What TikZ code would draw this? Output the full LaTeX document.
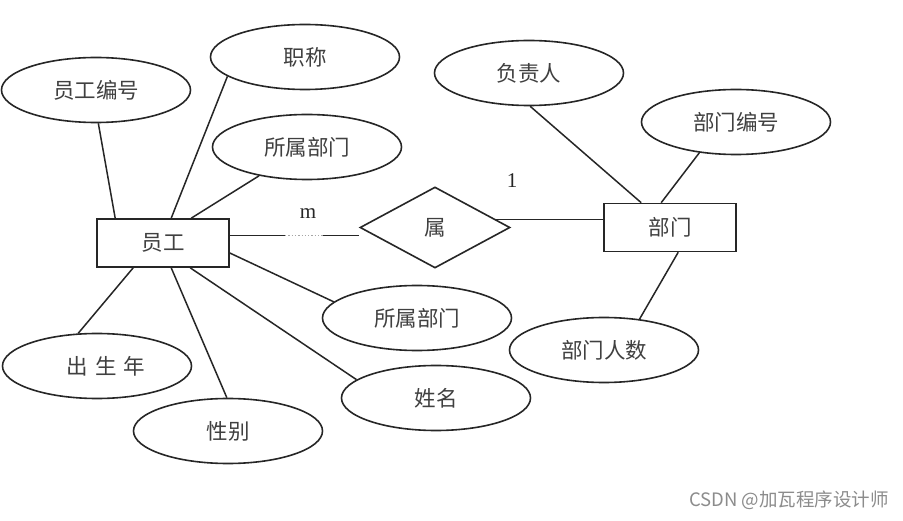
\documentclass[tikz,border=0pt]{standalone}
\usepackage{fontspec}
\setmainfont{Liberation Serif}
\newfontfamily\cjk{Noto Sans CJK SC}
\usetikzlibrary{shapes.geometric}
\begin{document}
\begin{tikzpicture}[x=1pt,y=-1pt,
  attr/.style={ellipse, draw=black!85, line width=1.6pt, fill=white,
    minimum width=189pt, minimum height=65pt, inner sep=0pt,
    font=\cjk\fontsize{21.5}{24}\selectfont, text=black!75},
  ent/.style={rectangle, draw=black!85, line width=1.6pt, fill=white,
    minimum width=132pt, minimum height=48pt, inner sep=0pt,
    font=\cjk\fontsize{21.5}{24}\selectfont, text=black!75},
  rel/.style={diamond, draw=black!85, line width=1.6pt, fill=white,
    minimum width=150pt, minimum height=81pt, inner sep=0pt,
    font=\cjk\fontsize{21.5}{24}\selectfont, text=black!75},
  conn/.style={draw=black!85, line width=1.5pt},
  card/.style={font=\fontsize{21}{24}\selectfont, text=black!85, inner sep=0pt}]
\useasboundingbox (0,0) rectangle (903,521);
\fill[white] (0,0) rectangle (903,521);

% entities and relation
\node[ent] (yg) at (163,243) {员工};
\node[ent] (bm) at (670,227.5) {部门};
\node[rel] (dm) at (435,227.5) {属};

% attributes
\node[attr] (ygbh)  at (96,90)   {员工编号};
\node[attr] (zc)    at (305,57)  {职称};
\node[attr] (ssbm1) at (307,147) {所属部门};
\node[attr] (fzr)   at (529,73)  {负责人};
\node[attr] (bmbh)  at (736,122) {部门编号};
\node[attr] (ssbm2) at (417,318) {所属部门};
\node[attr] (bmrs)  at (604,350) {部门人数};
\node[attr] (csn)   at (97,366)  {\hspace{18pt}出\hspace{7pt}生\hspace{7pt}年};
\node[attr] (xm)    at (436,398) {姓名};
\node[attr] (xb)    at (228,431) {性别};

% connectors of 员工
\draw[conn] ([xshift=19pt]yg.north west) -- (ygbh.-86.5);
\draw[conn] ([xshift=75pt]yg.north west) -- (zc.-166.8);
\draw[conn] ([xshift=95pt]yg.north west) -- (ssbm1.-149);
\draw[conn] ([yshift=-10pt]yg.east) -- (ssbm2.169.3);
\draw[conn] ([xshift=94pt]yg.south west) -- (xm.167.5);
\draw[conn] ([xshift=75pt]yg.south west) -- (xb.92);
\draw[conn] ([xshift=37pt]yg.south west) -- (csn.120);

% connectors of 部门
\draw[conn] ([xshift=38pt]bm.north west) -- (fzr.-88);
\draw[conn] ([xshift=58pt]bm.north west) -- (bmbh.-140);
\draw[conn] ([xshift=75pt]bm.south west) -- (bmrs.41);

% relation connectors
\coordinate (m1) at (285,235.5);
\coordinate (m2) at (323,235.5);
\draw[conn] ([yshift=7.5pt]yg.east) -- (m1);
\draw[draw=black!35, line width=1.3pt, dotted] (m1) -- (m2);
\draw[conn] (m2) -- ([yshift=-8pt]dm.west);
\draw[conn] ([xshift=-16pt,yshift=8pt]dm.east) -- ([yshift=8pt]bm.west);

% cardinalities
\node[card] (cm) at (308,214) {m};
\node[card] (c1) at (512,181) {1};

% watermark
\node[anchor=east, inner sep=0pt, font=\cjk\fontsize{18.5}{20}\selectfont, text=black!45] (wm) at (889,500) {CSDN @加瓦程序设计师};
\end{tikzpicture}
\end{document}
